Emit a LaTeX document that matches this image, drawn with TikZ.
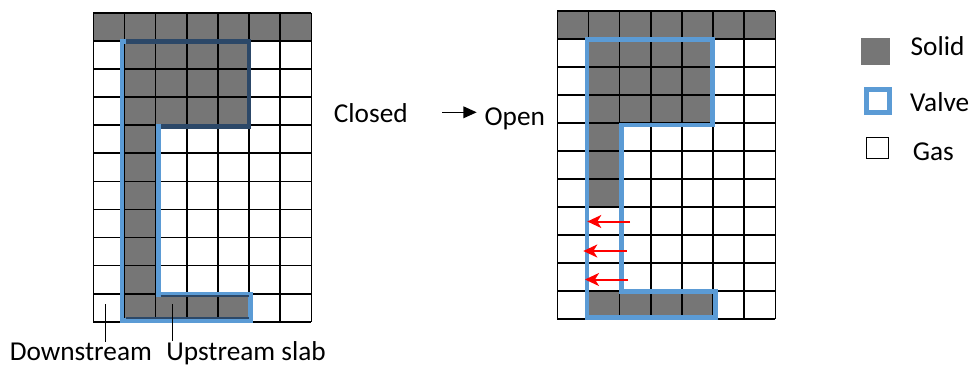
\documentclass[tikz,border=0pt]{standalone}
\usepackage{fontspec}
\setmainfont{Carlito}
\usetikzlibrary{arrows.meta}

\definecolor{solidgray}{RGB}{118,118,118}
\definecolor{valveblue}{RGB}{91,155,213}
\definecolor{valvenavy}{RGB}{44,72,104}

\tikzset{
  cellline/.style={black, line width=1.6pt},
  solidcell/.style={fill=solidgray},
  valve/.style={valveblue, line width=4.6pt, line join=miter, line cap=rect},
  valveshut/.style={valvenavy, line width=4.6pt, line join=miter},
  valveedge/.style={valvenavy, line width=2.2pt},
  label/.style={inner sep=0pt, anchor=base west, font=\fontsize{27.3pt}{32pt}\selectfont},
  leader/.style={black, line width=1.2pt},
  flowarrow/.style={black, line width=1.2pt, -{Triangle[length=13.3pt,width=11.7pt]}},
  leak/.style={red, line width=2pt, -{Stealth[length=14pt,width=13pt,inset=4pt]}},
}

\begin{document}
\begin{tikzpicture}[x=1pt,y=-1pt]
\useasboundingbox (0,0) rectangle (973,365);

% ---------- closed state ----------
\begin{scope}[shift={(93.3,12.7)}, x=31.15pt, y=-28.1pt]
  \fill[solidcell] (0,0) rectangle (7,1);
  \fill[solidcell] (1,1) rectangle (5,4);
  \fill[solidcell] (1,4) rectangle (2,10);
  \fill[solidcell] (1,10) rectangle (5,11);
  \foreach \i in {0,...,7} \draw[cellline] (\i,0) -- (\i,11);
  \foreach \j in {0,...,11} \draw[cellline] (0,\j) -- (7,\j);
\end{scope}
\draw[valve] (122,41.3) -- (122,320.5) -- (250.5,320.5) -- (250.5,294.5)
  -- (158.5,294.5) -- (158.5,126.7) -- (249,126.7) -- (249,41.3) -- cycle;
\draw[valveshut] (126,41.3) -- (249,41.3) -- (249,126.7) -- (160.8,126.7);
\draw[valveedge] (160.8,296) -- (248.5,296);
\draw[valveedge] (126,317.6) -- (248.5,317.6);

% ---------- open state ----------
\begin{scope}[shift={(557.3,10.7)}, x=31.15pt, y=-28.05pt]
  \fill[solidcell] (0,0) rectangle (7,1);
  \fill[solidcell] (1,1) rectangle (5,4);
  \fill[solidcell] (1,4) rectangle (2,7);
  \fill[solidcell] (1,10) rectangle (5,11);
  \foreach \i in {0,...,7} \draw[cellline] (\i,0) -- (\i,11);
  \foreach \j in {0,...,11} \draw[cellline] (0,\j) -- (7,\j);
\end{scope}
\draw[valve] (587,39.5) -- (587,317.2) -- (715.2,317.2) -- (715.2,291.5)
  -- (621.5,291.5) -- (621.5,125) -- (712.5,125) -- (712.5,39.5) -- cycle;

% gas leaking out through the open gap
\coordinate (leak1s) at (630,221.5);   \coordinate (leak1e) at (587.3,221.5);
\coordinate (leak2s) at (626.7,251);   \coordinate (leak2e) at (583.3,251);
\coordinate (leak3s) at (628.3,279.5); \coordinate (leak3e) at (585,279.5);
\draw[leak] (leak1s) -- (leak1e);
\draw[leak] (leak2s) -- (leak2e);
\draw[leak] (leak3s) -- (leak3e);

% ---------- state change ----------
\node[label] (closed) at (333.7,122.7) {Closed};
\node[label] (open) at (484.4,125) {Open};
\draw[flowarrow] ([xshift=34.2pt,yshift=10.4pt]closed.base east)
  -- ([xshift=-7.7pt,yshift=12.7pt]open.base west);

% ---------- slab labels ----------
\node[label] (down) at (9.6,360) {Downstream};
\node[label] (up) at (166.2,360) {Upstream slab};
\coordinate (downpt) at (105.5,304);
\coordinate (uppt) at (172.7,304);
\draw[leader] (downpt) -- (downpt |- down.north);
\draw[leader] (uppt) -- (uppt |- up.north);

% ---------- legend ----------
\fill[solidcell] (861,38.3) rectangle (890,65);
\draw[valveblue, line width=5pt] (866.5,89.5) rectangle (889,112.5);
\draw[black, line width=1.5pt] (866.7,137.5) rectangle (888.5,158.5);
\node[label] (lsolid) at (910.4,55) {Solid};
\node[label] (lvalve) at (910,111.7) {Valve};
\node[label] (lgas) at (912.7,160) {Gas};
\end{tikzpicture}
\end{document}
